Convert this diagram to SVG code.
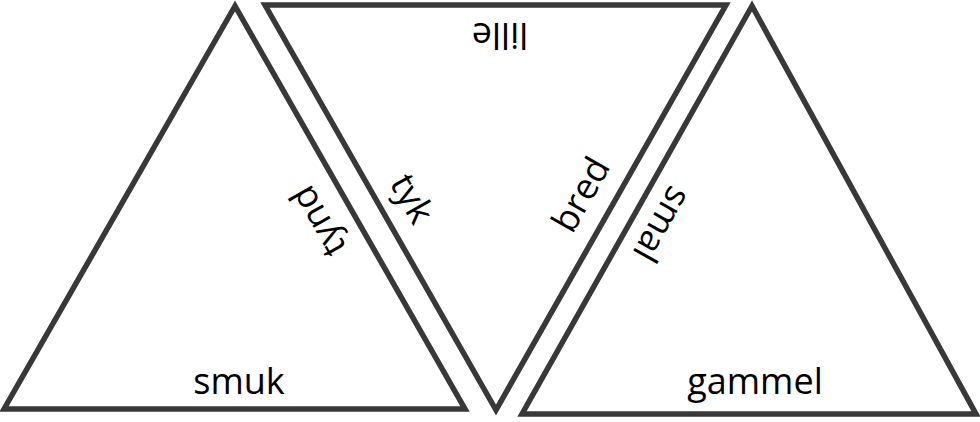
<svg xmlns="http://www.w3.org/2000/svg" width="980" height="422" viewBox="0 0 980 422">
<style>
.tri{fill:#ffffff;stroke:#383838;stroke-width:5.5;stroke-linejoin:miter;stroke-miterlimit:10}
.lbl{font-family:"Open Sans","Liberation Sans",sans-serif;font-size:36px;fill:#000000;text-anchor:middle;dominant-baseline:central}
</style>
<rect width="980" height="422" fill="#ffffff"/>
<g id="left-triangle">
<polygon class="tri" points="235,6 4,409 465,409"/>
<text class="lbl" x="239" y="380">smuk</text>
<text class="lbl" transform="translate(317,222) rotate(-119.7)">tynd</text>
</g>
<g id="middle-triangle">
<polygon class="tri" points="265,5 726,5 496,410"/>
<text class="lbl" transform="translate(500,36) rotate(180)">lille</text>
<text class="lbl" transform="translate(413,198) rotate(60.3)">tyk</text>
<text class="lbl" transform="translate(580,194) rotate(-60.4)">bred</text>
</g>
<g id="right-triangle">
<polygon class="tri" points="752,6 522,414 976,414"/>
<text class="lbl" x="755" y="380">gammel</text>
<text class="lbl" transform="translate(663,225) rotate(119.4)">smal</text>
</g>
<g id="connectors"/>
</svg>
